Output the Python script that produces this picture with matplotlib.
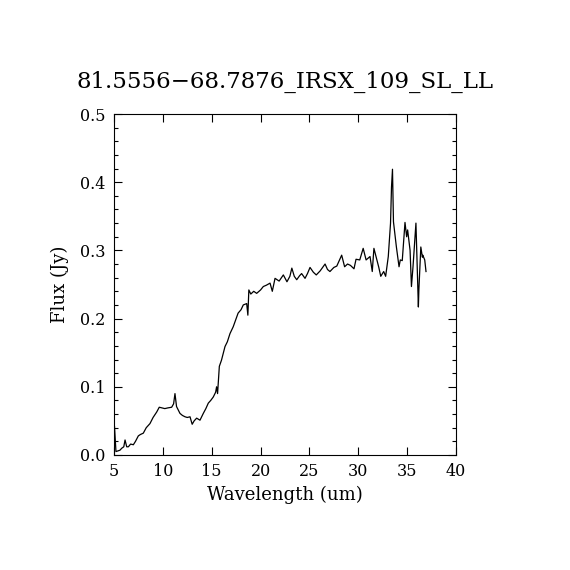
import matplotlib
matplotlib.use("Agg")
import matplotlib.pyplot as plt
from matplotlib.ticker import MultipleLocator

title = "81.5556\u221268.7876_IRSX_109_SL_LL"

wavelength = [5.02, 5.05, 5.2, 5.4, 5.61, 5.8, 6.0, 6.13, 6.3, 6.47, 6.7, 6.98, 7.2,
              7.49, 7.7, 8.0, 8.3, 8.68, 9.0, 9.37, 9.63, 9.9, 10.2, 10.5, 10.9,
              11.1, 11.24, 11.4, 11.75, 12.0, 12.27, 12.5, 12.78, 13.0, 13.2,
              13.46, 13.8, 14.14, 14.4, 14.65, 14.9, 15.16, 15.4, 15.5, 15.6,
              15.78, 16.0, 16.36, 16.6, 16.87, 17.2, 17.45, 17.7, 18.0, 18.23,
              18.58, 18.7, 18.8, 19.0, 19.3, 19.6, 20.0, 20.28, 20.6, 20.97,
              21.2, 21.48, 21.9, 22.33, 22.7, 23.0, 23.2, 23.45, 23.7, 24.0,
              24.2, 24.55, 24.8, 25.06, 25.4, 25.7, 26.1, 26.6, 26.85, 27.1,
              27.5, 27.8, 28.05, 28.3, 28.6, 28.9, 29.2, 29.56, 29.77, 30.15,
              30.5, 30.8, 31.2, 31.43, 31.6, 31.9, 32.1, 32.3, 32.6, 32.8,
              33.07, 33.3, 33.4, 33.5, 33.6, 33.9, 34.17, 34.3, 34.5, 34.78,
              34.95, 35.05, 35.3, 35.44, 35.6, 35.9, 36.15, 36.2, 36.4, 36.56,
              36.6, 36.8, 36.93]
flux = [0.04, 0.042, 0.005, 0.006, 0.007, 0.01, 0.012, 0.022, 0.012, 0.012, 0.016, 0.015, 0.02,
        0.028, 0.03, 0.032, 0.04, 0.046, 0.055, 0.063, 0.07, 0.069, 0.068, 0.069, 0.07,
        0.075, 0.09, 0.071, 0.061, 0.058, 0.056, 0.055, 0.056, 0.045, 0.05,
        0.054, 0.051, 0.061, 0.068, 0.076, 0.08, 0.085, 0.092, 0.1, 0.09,
        0.13, 0.139, 0.159, 0.166, 0.178, 0.188, 0.198, 0.208, 0.213, 0.22,
        0.222, 0.205, 0.242, 0.236, 0.24, 0.237, 0.242, 0.247, 0.249, 0.252,
        0.24, 0.259, 0.255, 0.264, 0.254, 0.262, 0.274, 0.262, 0.257, 0.263,
        0.266, 0.259, 0.266, 0.275, 0.268, 0.264, 0.27, 0.28, 0.272, 0.269,
        0.275, 0.277, 0.285, 0.293, 0.276, 0.28, 0.278, 0.273, 0.287, 0.286,
        0.303, 0.286, 0.291, 0.269, 0.303, 0.286, 0.275, 0.262, 0.269, 0.262,
        0.291, 0.34, 0.393, 0.419, 0.342, 0.305, 0.276, 0.286, 0.285, 0.341,
        0.32, 0.33, 0.30, 0.247, 0.276, 0.34, 0.217, 0.242, 0.305, 0.29,
        0.293, 0.286, 0.269]

xticks = [5, 10, 15, 20, 25, 30, 35, 40]
yticks = [0.0, 0.1, 0.2, 0.3, 0.4, 0.5]

plt.rcParams['font.family'] = ['DejaVu Serif']

fig = plt.figure(figsize=(5.7, 5.7), dpi=100)
ax = fig.add_axes([0.2, 0.2018, 0.6, 0.5982])
ax.plot(wavelength, flux, color='black', linewidth=0.9)
ax.set_xlim(5, 40)
ax.set_ylim(0, 0.5)
ax.set_xticks(xticks)
ax.set_xticklabels([str(t) for t in xticks])
ax.set_yticks(yticks)
ax.set_yticklabels([f"{t:.1f}" for t in yticks])
ax.yaxis.set_minor_locator(MultipleLocator(0.02))
ax.tick_params(axis='both', which='both', direction='in', top=True, right=True,
               labelsize=11.5, pad=6)
ax.tick_params(which='major', length=6, width=0.8)
ax.tick_params(which='minor', length=3, width=0.8)
for s in ax.spines.values():
    s.set_linewidth(0.8)
ax.set_xlabel("Wavelength (um)", fontsize=13, labelpad=4)
ax.set_ylabel("Flux (Jy)", fontsize=13, labelpad=8)
fig.text(0.5, 0.856, title, ha='center', va='center', fontsize=16.5)
fig.savefig("out.png", dpi=100, facecolor='white')
